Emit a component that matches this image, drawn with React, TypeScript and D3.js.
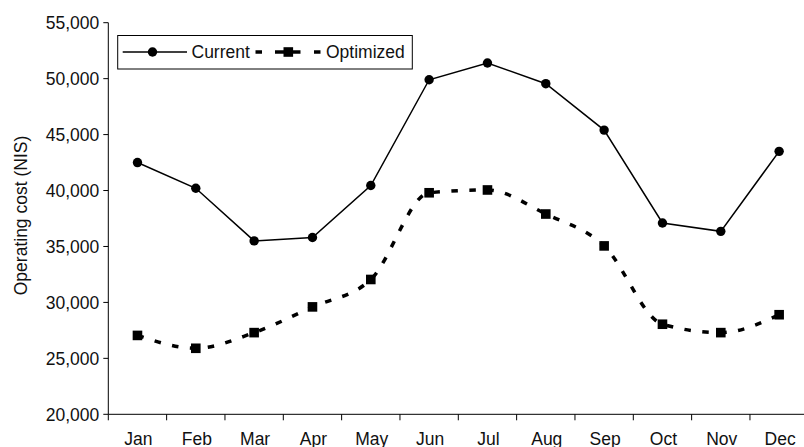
import React from "react";
import * as d3 from "d3";

const months = ["Jan", "Feb", "Mar", "Apr", "May", "Jun", "Jul", "Aug", "Sep", "Oct", "Nov", "Dec"];
const current = [42500, 40200, 35500, 35800, 40450, 49900, 51400, 49550, 45400, 37100, 36350, 43500];
const optimized = [27050, 25900, 27300, 29600, 32050, 39800, 40050, 37900, 35050, 28050, 27300, 28900];
const yTicks = [20000, 25000, 30000, 35000, 40000, 45000, 50000, 55000];
const seriesNames = ["Current", "Optimized"];

const W = 804;
const H = 447;
const left = 108.3;
const right = 808.3;
const top = 22.7;
const bottom = 414.3;
const font = "'Liberation Sans', Arial, sans-serif";
const fs = 17.5;

export default function App() {
  const x = d3.scaleBand<string>().domain(months).range([left, right]);
  const y = d3.scaleLinear().domain([20000, 55000]).range([bottom, top]);
  const cx = (m: string) => (x(m) as number) + x.bandwidth() / 2;
  const fmt = d3.format(",");

  const lineCur = d3
    .line<number>()
    .x((_, i) => cx(months[i]))
    .y((d) => y(d))(current) as string;
  const lineOpt = d3
    .line<number>()
    .x((_, i) => cx(months[i]))
    .y((d) => y(d))
    .curve(d3.curveMonotoneX)(optimized) as string;

  const boundaries = months.map((m) => x(m) as number).concat([right]);
  const ly = 52;

  return (
    <svg
      width={W}
      height={H}
      style={{ position: "absolute", left: 0, top: 0, background: "#fff" }}
      fontFamily={font}
    >
      <rect x={0} y={0} width={W} height={H} fill="#fff" />
      {/* Y axis */}
      <line x1={left} x2={left} y1={top} y2={bottom} stroke="#000" strokeWidth={1} />
      {yTicks.map((t) => (
        <g key={t}>
          <line x1={left - 5} x2={left} y1={y(t)} y2={y(t)} stroke="#000" strokeWidth={1} />
          <text x={left - 9} y={y(t)} dy="0.36em" textAnchor="end" fontSize={fs} fill="#111">
            {fmt(t)}
          </text>
        </g>
      ))}
      <text
        transform={`translate(27,${(top + bottom) / 2 - 3}) rotate(-90)`}
        textAnchor="middle"
        fontSize={fs}
        fill="#111"
      >
        Operating cost (NIS)
      </text>
      {/* X axis */}
      <line x1={left} x2={right} y1={bottom} y2={bottom} stroke="#000" strokeWidth={1} />
      {boundaries.map((b, i) => (
        <line key={i} x1={b} x2={b} y1={bottom} y2={bottom + 6} stroke="#000" strokeWidth={1} />
      ))}
      {months.map((m) => (
        <text key={m} x={cx(m) + 1} y={445} textAnchor="middle" fontSize={fs} fill="#111">
          {m}
        </text>
      ))}
      {/* Series */}
      <path d={lineCur} fill="none" stroke="#000" strokeWidth={1.5} />
      {current.map((v, i) => (
        <circle key={i} cx={cx(months[i])} cy={y(v)} r={4.7} fill="#000" />
      ))}
      <path d={lineOpt} fill="none" stroke="#000" strokeWidth={3.5} strokeDasharray="6.5 11.5" />
      {optimized.map((v, i) => (
        <rect key={i} x={cx(months[i]) - 4.8} y={y(v) - 4.8} width={9.6} height={9.6} fill="#000" />
      ))}
      {/* Legend */}
      <rect x={117.7} y={35.5} width={294.6} height={33.5} fill="#fff" stroke="#000" strokeWidth={1} />
      <line x1={122.7} x2={187} y1={ly} y2={ly} stroke="#000" strokeWidth={1.5} />
      <circle cx={152.5} cy={ly} r={4.7} fill="#000" />
      <text x={191.5} y={ly} dy="0.36em" fontSize={fs} fill="#111">
        {seriesNames[0]}
      </text>
      <line x1={255.5} x2={262} y1={ly} y2={ly} stroke="#000" strokeWidth={3.5} />
      <line x1={275} x2={300.5} y1={ly} y2={ly} stroke="#000" strokeWidth={3.5} />
      <line x1={314} x2={320.5} y1={ly} y2={ly} stroke="#000" strokeWidth={3.5} />
      <rect x={283.5} y={ly - 4.8} width={9.6} height={9.6} fill="#000" />
      <text x={326} y={ly} dy="0.36em" fontSize={fs} fill="#111">
        {seriesNames[1]}
      </text>
    </svg>
  );
}
